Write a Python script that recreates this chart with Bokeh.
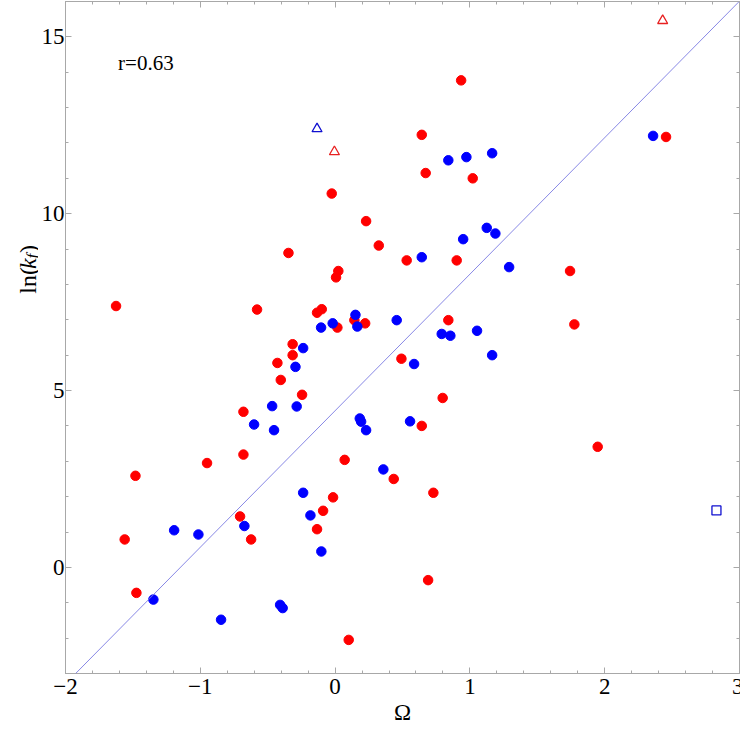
import numpy as np
from bokeh.plotting import figure
from bokeh.layouts import row
from bokeh.models import (FixedTicker, LinearAxis, Slope, Label,
                          CustomJSTickFormatter, Range1d)
from bokeh.embed import file_html
from bokeh.resources import INLINE

# ---------------- data ----------------
red_x = [-1.625, -0.579, -0.346, 0.935, 0.643, 0.672, 1.021, -0.025, 0.230, 0.324,
         0.531, 0.902, 0.024, 0.007, -0.099, -0.134, 0.143, 0.223, 0.017, 0.840,
         -0.315, -0.315, 2.455, 1.743, 1.775, -0.428, -0.403, -0.680, -0.680, -0.950,
         -1.481, -0.705, -1.561, -0.623, -1.474, -0.245, 0.492, 0.798, 0.643, 0.071,
         0.435, 0.729, -0.015, -0.089, -0.134, 0.690, 0.101, 1.948]
red_y = [7.39, 7.29, 8.89, 13.77, 12.23, 11.15, 11.00, 10.57, 9.79, 9.10,
         8.68, 8.68, 8.38, 8.20, 7.30, 7.20, 6.99, 6.90, 6.78, 6.99,
         6.31, 6.00, 12.17, 8.38, 6.87, 5.78, 5.30, 4.40, 3.19, 2.95,
         2.59, 1.44, 0.79, 0.79, -0.72, 4.88, 5.90, 4.79, 4.00, 3.04,
         2.50, 2.11, 1.98, 1.60, 1.08, -0.36, -2.05, 3.41]

blue_x = [0.840, 0.974, 1.165, 1.125, 1.189, 0.950, 0.643, 1.291, 0.151, -0.018,
          -0.104, 0.165, 0.457, 0.791, 0.855, 1.053, 2.359, -0.294, -0.467, -0.285,
          -0.601, -0.453, -0.673, -1.194, -1.014, -1.348, -0.408, -0.389, -0.846, -0.237,
          0.586, 1.165, 0.183, 0.193, 0.230, 0.556, 0.358, -0.237, -0.183, -0.102]
blue_y = [11.51, 11.60, 11.71, 9.60, 9.44, 9.28, 8.77, 8.49, 7.14, 6.90,
          6.78, 6.81, 6.99, 6.60, 6.55, 6.69, 12.20, 5.67, 4.56, 4.55,
          4.04, 3.88, 1.17, 1.05, 0.93, -0.91, -1.06, -1.15, -1.48, 6.20,
          5.75, 6.00, 4.21, 4.12, 3.88, 4.13, 2.77, 2.11, 1.47, 0.45]

red_tri_x = [-0.005, 2.430]
red_tri_y = [11.75, 15.46]
blue_tri_x = [-0.134]
blue_tri_y = [12.40]
blue_sq_x = [2.829]
blue_sq_y = [1.61]

fit_intercept = 4.43
fit_slope = 3.86
r_text = "r=0.63"

x_ticks = [-2, -1, 0, 1, 2, 3]
x_tick_labels = ["\u22122", "\u22121", "0", "1", "2", "3"]
y_ticks = [0, 5, 10, 15]
y_tick_labels = ["0", "5", "10", "15"]
x_range = (-2, 3)
y_range = (-3, 16)

# ---------------- styling ----------------
FONT = "Liberation Serif"
GRAY = "#a8a8a8"
RED = "#ff0000"
BLUE = "#0000ff"
FIG_H = 732
LAB_W = 38

x_minor = [round(v, 2) for v in np.arange(x_range[0], x_range[1] + 1e-9, 0.2)]
y_minor = list(range(y_range[0], y_range[1] + 1))

p = figure(frame_width=674, frame_height=672,
           x_range=Range1d(*x_range), y_range=Range1d(*y_range),
           output_backend="svg", toolbar_location=None,
           min_border_left=24, min_border_right=4,
           min_border_top=1, min_border_bottom=4,
           background_fill_color="white", border_fill_color="white")
p.xgrid.visible = False
p.ygrid.visible = False
p.outline_line_color = GRAY
p.outline_line_width = 1


def style_axis(ax, ticks, minor, labels, standoff=3):
    ax.ticker = FixedTicker(ticks=ticks, minor_ticks=minor)
    ax.axis_line_color = GRAY
    ax.major_tick_line_color = GRAY
    ax.minor_tick_line_color = GRAY
    ax.major_tick_in = 6
    ax.major_tick_out = 0
    ax.minor_tick_in = 3
    ax.minor_tick_out = 0
    if labels is None:
        ax.formatter = CustomJSTickFormatter(code="return ''")
        ax.major_label_text_font_size = "1px"
        ax.major_label_standoff = 0
    else:
        ax.major_label_overrides = {t: l for t, l in zip(ticks, labels)}
        ax.major_label_text_font = FONT
        ax.major_label_text_font_size = "23px"
        ax.major_label_text_color = "black"
        ax.major_label_standoff = standoff


bottom_ax = p.xaxis[0]
left_ax = p.yaxis[0]
style_axis(bottom_ax, x_ticks, x_minor, x_tick_labels, standoff=5)
style_axis(left_ax, y_ticks, y_minor, y_tick_labels, standoff=1)

bottom_ax.axis_label = "\u03a9"
bottom_ax.axis_label_text_font = FONT
bottom_ax.axis_label_text_font_style = "normal"
bottom_ax.axis_label_text_font_size = "23px"
bottom_ax.axis_label_text_color = "black"
bottom_ax.axis_label_standoff = 3

top_ax = LinearAxis()
right_ax = LinearAxis()
style_axis(top_ax, x_ticks, x_minor, None)
style_axis(right_ax, y_ticks, y_minor, None)
p.add_layout(top_ax, "above")
p.add_layout(right_ax, "right")

# fit line
p.add_layout(Slope(gradient=fit_slope, y_intercept=fit_intercept,
                   line_color="#7b7be2", line_width=0.9))

# points
p.scatter(red_x, red_y, marker="circle", size=9.5,
          fill_color=RED, line_color=RED)
p.scatter(blue_x, blue_y, marker="circle", size=9.5,
          fill_color=BLUE, line_color=BLUE)
p.scatter(red_tri_x, red_tri_y, marker="triangle", size=10,
          fill_color=None, line_color="#e82020", line_width=1.3)
p.scatter(blue_tri_x, blue_tri_y, marker="triangle", size=10,
          fill_color=None, line_color="#1010d0", line_width=1.3)
p.scatter(blue_sq_x, blue_sq_y, marker="square", size=9,
          fill_color=None, line_color="#1010d0", line_width=1.3)

# correlation text
p.add_layout(Label(x=-1.61, y=14.25, text=r_text, text_font=FONT,
                   text_font_size="21px", text_color="black",
                   text_align="left", text_baseline="alphabetic"))

# ---------------- y-axis title  ln(k_f)  in a narrow side panel ----------------
lab = figure(width=LAB_W, height=FIG_H, x_range=Range1d(0, LAB_W),
             y_range=Range1d(0, FIG_H), x_axis_type=None, y_axis_type=None,
             output_backend="svg", toolbar_location=None, min_border=0,
             outline_line_color=None, background_fill_color="white",
             border_fill_color="white")
lab.grid.visible = False

base_x = 27      # baseline of the rotated text (panel pixels)
start_y = 416    # where "ln(" starts (panel pixels from bottom)
parts = [
    ("ln(", "normal", "24px", 0, 0),
    ("k", "italic", "24px", 0, 26.8),
    ("f", "italic", "17px", 5, 38.0),
    (")", "normal", "24px", 0, 44.0),
]
for txt, style, size, dx, dy in parts:
    lab.add_layout(Label(x=base_x + dx, y=start_y + dy,
                         text=txt, text_font=FONT, text_font_style=style,
                         text_font_size=size, text_color="black", angle=np.pi / 2,
                         text_align="left", text_baseline="alphabetic"))

layout = row(lab, p)
open("out.html", "w").write(file_html(layout, INLINE))
